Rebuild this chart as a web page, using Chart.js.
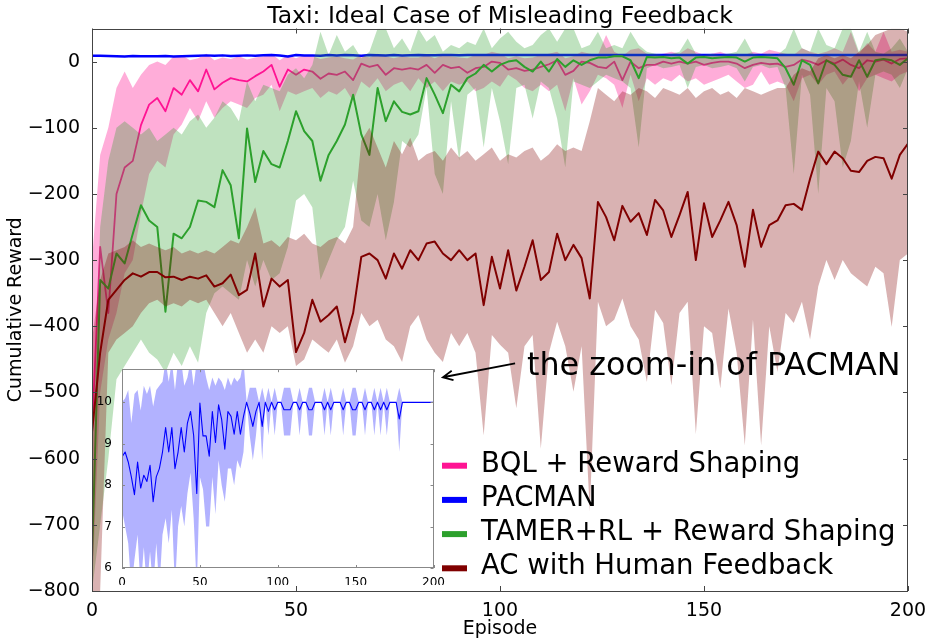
<!DOCTYPE html>
<html lang="en">
<head>
  <meta charset="UTF-8" />
  <title>Taxi: Ideal Case of Misleading Feedback</title>
  <script src="https://cdn.jsdelivr.net/npm/chart.js"></script>
  <style>
    html, body { margin: 0; padding: 0; background: #fff; }
    .wrap { position: relative; width: 931px; height: 643px; }
    #mainChart { position: absolute; left: 0; top: 0; }
    #insetChart { position: absolute; left: 95px; top: 360px; }
  </style>
</head>
<body>
  <div class="wrap">
    <canvas id="mainChart" width="931" height="643"></canvas>
    <canvas id="insetChart" width="350" height="225"></canvas>
  </div>

  <script>
    // x positions: every second episode
    const episodes = Array.from({ length: 101 }, (_, i) => i * 2);
    const xTicks = [0, 50, 100, 150, 200];
    const yTicks = [-800, -700, -600, -500, -400, -300, -200, -100, 0];
    const insetYTicks = [6, 7, 8, 9, 10];

    const chartTitle = 'Taxi: Ideal Case of Misleading Feedback';
    const seriesNames = ['BQL + Reward Shaping', 'PACMAN', 'TAMER+RL + Reward Shaping', 'AC with Human Feedback'];

    // BQL + Reward Shaping
    const bqlMean = [
      -560, -280, -380, -200, -160, -150, -96, -65, -55, -75,
      -40, -50, -28, -45, -12, -42, -32, -25, -28, -30,
      -22, -15, -5, -38, -12, -20, -12, -15, -26, -18,
      -20, -15, -28, -3, -8, -5, -20, -10, -12, -10,
      -12, -5, -17, -5, -10, -8, -17, -10, -8, 0,
      -2, -12, -10, -14, -12, -8, -4, 2, -20, -14,
      0, -2, -8, -10, 0, -28, 0, -10, -5, -5,
      0, -3, 0, -3, 0, -5, -2, 0, 0, -3,
      -10, -5, -2, -4, -3, -8, -5, 3, 0, -5,
      2, -3, 3, -5, -10, 2, 0, 3, -3, 4,
      5
    ];
    const bqlHi = [
      -300, -141, -100, -40, -15, -40, -20, -5, 0, -5,
      8, 10, 2, 5, 12, 2, 6, 4, 8, 3,
      6, 8, 12, 2, 10, 5, 10, 8, 4, 6,
      8, 5, 3, 10, 6, 12, 8, 5, 8, 6,
      6, 10, 5, 10, 8, 6, 5, 10, 10, 15,
      12, 5, 8, 5, 6, 10, 12, 15, 5, 8,
      15, 12, 10, 40, 15, 8, 18, 20, 12, 10,
      12, 15, 12, 20, 15, 10, 12, 15, 10, 12,
      10, 15, 12, 18, 15, 12, 10, 20, 15, 12,
      15, 20, 15, 45, 12, 28, 15, 45, 15, 18,
      15
    ];
    const bqlLo = [
      -800, -500, -420, -380, -320, -300, -230, -170, -150, -160,
      -110, -95, -70, -90, -60, -85, -70, -60, -65, -70,
      -55, -50, -35, -75, -45, -50, -45, -40, -55, -45,
      -50, -40, -60, -30, -40, -25, -45, -35, -30, -45,
      -25, -40, -30, -45, -30, -35, -30, -45, -40, -30,
      -38, -20, -28, -40, -45, -35, -45, -35, -75, -25,
      -65, -45, -20, -25, -35, -70, -20, -60, -25, -35,
      -25, -30, -20, -30, -25, -35, -30, -25, -20, -30,
      -40, -35, -15, -35, -30, -35, -60, -25, -20, -35,
      -20, -15, -35, -20, -45, -25, -20, -25, -30, -20,
      -15
    ];

    // PACMAN (also the inset)
    const pacMean = [
      8.68, 8.8, 8.56, 8.2, 7.77, 8.56, 7.93, 8.24, 8.09, 8.48,
      7.6, 8.2, 8.4, 8.8, 9.39, 8.8, 9.39, 8.4, 8.8, 9.39,
      8.8, 9.5, 9.78, 9.2, 7.8, 9.98, 9.19, 9.19, 8.7, 9.78,
      9.03, 9.94, 9.58, 8.87, 9.78, 9.66, 9.23, 9.78, 9.23, 9.66,
      10, 9.74, 9.42, 9.78, 10, 9.42, 10, 9.78, 10, 9.82,
      10, 10, 9.82, 9.82, 9.82, 10, 10, 9.82, 10, 10,
      9.82, 9.82, 10, 10, 10, 9.82, 10, 9.82, 10, 10,
      10, 9.82, 10, 10, 9.82, 9.82, 10, 10, 9.82, 10,
      10, 9.82, 10, 9.82, 10, 9.82, 10, 10, 10, 9.6,
      10, 10, 10, 10, 10, 10, 10, 10, 10, 10,
      10
    ];
    const pacHi = [
      10.0, 10.1, 10.3, 9.5, 10.2, 10.3, 9.8, 10.4, 10.2, 10.4,
      9.9, 10.3, 10.4, 10.5, 11, 10.5, 11, 10.3, 11, 11,
      10.4, 10.6, 11, 10.4, 11, 11, 11, 10.6, 10.3, 10.6,
      10.4, 10.6, 10.5, 10.3, 10.6, 10.4, 10.6, 10.5, 10.6, 11,
      10, 10.35, 10.35, 10.35, 10, 10.35, 10, 10.35, 10, 10.35,
      10, 10, 10.35, 10.35, 10.35, 10, 10, 10.35, 10, 10,
      10.35, 10.35, 10, 10, 10, 10.35, 10, 10.35, 10, 10,
      10, 10.35, 10, 10, 10.35, 10.35, 10, 10, 10.35, 10,
      10, 10.35, 10, 10.35, 10, 10.35, 10, 10, 10, 10.35,
      10, 10, 10, 10, 10, 10, 10, 10, 10, 10,
      10
    ];
    const pacLo = [
      7.4, 7.0, 6.6, 5.5, 6.2, 6.8, 5.5, 6.5, 5.5, 6.4,
      5.5, 6.6, 5.5, 6.8, 7.2, 6.6, 7.4, 5.5, 7.0, 7.5,
      7.0, 7.8, 8.3, 7.2, 5.5, 8.2, 7.9, 7.0, 7.0, 8.2,
      7.3, 8.6, 8.0, 7.6, 8.4, 8.4, 8.0, 8.6, 8.4, 8.8,
      10, 9.2, 8.6, 9.2, 10, 8.6, 10, 9.2, 10, 9.2,
      10, 10, 9.2, 9.2, 9.2, 10, 10, 9.2, 10, 10,
      9.2, 9.2, 10, 10, 10, 9.2, 10, 9.2, 10, 10,
      10, 9.2, 10, 10, 9.2, 9.2, 10, 10, 9.2, 10,
      10, 9.2, 10, 9.2, 10, 9.2, 10, 10, 10, 8.8,
      10, 10, 10, 10, 10, 10, 10, 10, 10, 10,
      10
    ];

    // TAMER+RL + Reward Shaping
    const tamerMean = [
      -750, -330, -343, -290, -305, -260, -217, -240, -250, -378,
      -260, -267, -250, -210, -212, -220, -164, -187, -267, -101,
      -182, -135, -155, -160, -120, -75, -105, -120, -180, -141,
      -120, -95, -50, -110, -141, -40, -90, -60, -76, -80,
      -75, -25, -50, -78, -35, -45, -25, -18, -5, -15,
      -5, 0, 2, -8, -15, 0, -15, 4, -8, 2,
      -5, 2, 6, 6, 8, 8, 2, -25, 7, 6,
      7, 5, 6, -3, 6, 7, 5, 6, 7, 6,
      0, 6, 7, 6, 5, -10, -35, 2, -5, -33,
      2, -5, -20, -23, 2, -23, 2, 4, 2, -5,
      5
    ];
    const tamerHi = [
      -600, -250, -150, -100, -90, -100, -110, -100, -120, -110,
      -100, -110, -90, -80, -100, -85, -60, -70, -90, -30,
      -60, -35, -40, -45, -20, -10, -25, -5, 45, 10,
      40, 15, 25, 5, 15, 50, 50, 20, 35, 15,
      50, 30, 40, 15, 25, 20, 30, 25, 50, 20,
      35, 45, 30, 20, 25, 40, 50, 30, 50, 50,
      20, 25, 45, 20, 25, 20, 45, 25, 15, 12,
      10, 12, 15, 35, 12, 10, 12, 10, 12, 15,
      35, 12, 10, 12, 10, 20, 50, 20, 15, 50,
      25, 20, 50, 50, 15, 45, 15, 12, 20, 35,
      15
    ];
    const tamerLo = [
      -800, -700, -600, -480, -460, -440, -420, -440, -450, -470,
      -440, -460, -430, -455, -380, -350, -340, -350, -360, -300,
      -340, -300, -330, -320, -280, -210, -200, -220, -330, -300,
      -270, -250, -180, -240, -250, -200, -270, -212, -120, -130,
      -110, -40, -170, -200, -60, -150, -50, -40, -130, -40,
      -90, -155, -40, -35, -86, -30, -40, -86, -160, -30,
      -35, -40, -30, -20, -25, -30, -40, -130, -10, -5,
      -10, -8, -5, -40, -8, -5, -10, -8, -5, -10,
      -30, -8, -5, -10, -8, -40, -170, -20, -50, -200,
      -40, -60, -160, -120, -30, -100, -20, -15, -20, -40,
      -10
    ];

    // AC with Human Feedback
    const acMean = [
      -560, -440, -360, -345, -330, -320, -325, -318, -318, -326,
      -325, -330, -325, -328, -323, -340, -335, -322, -353, -345,
      -290, -370, -328, -340, -330, -439, -410, -360, -393, -383,
      -370, -424, -380, -295, -290, -300, -328, -290, -313, -285,
      -300, -275, -272, -290, -300, -285, -300, -290, -368, -295,
      -343, -285, -346, -310, -270, -330, -318, -260, -300, -277,
      -297, -358, -212, -235, -270, -218, -242, -229, -262, -209,
      -225, -265, -232, -197, -300, -214, -265, -240, -212, -247,
      -310, -224, -280, -247, -240, -217, -215, -224, -177, -136,
      -155, -136, -146, -165, -167, -150, -144, -146, -177, -141,
      -124
    ];
    const acHi = [
      -420, -330, -290, -285, -280, -270, -280, -275, -280, -285,
      -280, -290, -285, -290, -285, -290, -280, -270, -275, -250,
      -220, -275, -270, -280, -265, -270, -260, -275, -280, -270,
      -265, -275, -250, -120, -100, -130, -160, -120, -140, -115,
      -150, -140, -135, -150, -130, -145, -135, -150, -140, -130,
      -150, -140, -145, -135, -130, -150, -140, -125, -135, -130,
      -135, -90, -40, -50, -60, -45, -50, -40, -45, -55,
      -40, -45, -50, -40, -55, -45, -40, -50, -45, -55,
      -40, -45, -50, -45, -40, -40, -20, -10, -15, 5,
      10, 5, 10, 5, 15, 25, 40, 45, 50, 50,
      45
    ];
    const acLo = [
      -800, -800, -440, -420, -410, -400, -380, -365, -360, -370,
      -365, -370, -360, -365, -360, -380, -400, -380, -410, -440,
      -420, -440, -400, -410, -400, -460, -450, -420, -430, -440,
      -420, -455, -430, -380, -400, -390, -420, -430, -454, -400,
      -383, -420, -440, -454, -410, -430, -410, -440, -565, -413,
      -428, -440, -524, -430, -413, -585, -440, -393, -430, -499,
      -430, -680, -363, -400, -390, -358, -400, -420, -484, -375,
      -395, -489, -380, -363, -563, -400, -410, -494, -373, -440,
      -580, -390, -580, -400, -469, -380, -395, -363, -420, -340,
      -300, -330, -300, -320, -330, -340, -310, -320, -401, -300,
      -290
    ];

    const colors = { bql: '#ff1493', pac: '#0000ff', tamer: '#2ca02c', ac: '#800000' };

    const noteText = 'the zoom-in of PACMAN';
    const notePos = [106.6, -474];
    const arrowFrom = [103.7, -456];
    const arrowTo = [86.0, -477];

    Chart.defaults.font.family = "'DejaVu Sans', sans-serif";
    Chart.defaults.color = '#000';

    const fmt = v => (v < 0 ? '\u2212' + Math.abs(v) : String(v));

    function points(values) {
      return values.map((v, i) => ({ x: episodes[i], y: v }));
    }

    // lower edge + upper edge filled down to it
    function bandSets(name, lo, hi, fillColor, order) {
      return [
        { label: name + ' (low)', data: points(lo), borderWidth: 0, fill: false, order: order + 1 },
        { label: name + ' (high)', data: points(hi), borderWidth: 0, fill: '-1', backgroundColor: fillColor, order: order }
      ];
    }

    function lineSet(name, values, color, width, order) {
      return { label: name, data: points(values), borderColor: color, borderWidth: width, fill: false, order: order, borderJoinStyle: 'round' };
    }

    // frame + inward ticks on all four sides
    const frameTicks = {
      id: 'frameTicks',
      beforeDraw(chart, args, opts) {
        if (!opts.background) return;
        const a = chart.chartArea;
        chart.ctx.save();
        chart.ctx.fillStyle = opts.background;
        chart.ctx.fillRect(a.left, a.top, a.width, a.height);
        chart.ctx.restore();
      },
      afterDatasetsDraw(chart, args, opts) {
        const { ctx, chartArea: a, scales: { x, y } } = chart;
        const len = opts.tickLength;
        ctx.save();
        ctx.strokeStyle = opts.color;
        ctx.lineWidth = 1;
        ctx.beginPath();
        x.ticks.forEach(t => {
          const px = Math.round(x.getPixelForValue(t.value)) + 0.5;
          ctx.moveTo(px, a.bottom); ctx.lineTo(px, a.bottom - len);
          ctx.moveTo(px, a.top); ctx.lineTo(px, a.top + len);
        });
        y.ticks.forEach(t => {
          const py = Math.round(y.getPixelForValue(t.value)) + 0.5;
          ctx.moveTo(a.left, py); ctx.lineTo(a.left + len, py);
          ctx.moveTo(a.right, py); ctx.lineTo(a.right - len, py);
        });
        ctx.stroke();
        ctx.strokeRect(Math.round(a.left) + 0.5, Math.round(a.top) + 0.5, Math.round(a.width) - 1, Math.round(a.height) - 1);
        ctx.restore();
      }
    };

    // title, annotation arrow and legend
    const overlay = {
      id: 'overlay',
      afterDraw(chart) {
        const { ctx, chartArea: a, scales: { x, y } } = chart;
        ctx.save();
        ctx.fillStyle = '#000';
        ctx.textBaseline = 'alphabetic';

        ctx.font = "23.5px 'DejaVu Sans'";
        ctx.textAlign = 'center';
        ctx.fillText(chartTitle, (a.left + a.right) / 2, 23.3);

        ctx.textAlign = 'left';
        const x0 = x.getPixelForValue(arrowFrom[0]), y0 = y.getPixelForValue(arrowFrom[1]);
        const x1 = x.getPixelForValue(arrowTo[0]), y1 = y.getPixelForValue(arrowTo[1]);
        const ang = Math.atan2(y1 - y0, x1 - x0);
        ctx.strokeStyle = '#000';
        ctx.lineWidth = 1.8;
        ctx.beginPath();
        ctx.moveTo(x0, y0);
        ctx.lineTo(x1, y1);
        ctx.moveTo(x1 - 11 * Math.cos(ang - 0.45), y1 - 11 * Math.sin(ang - 0.45));
        ctx.lineTo(x1, y1);
        ctx.lineTo(x1 - 11 * Math.cos(ang + 0.45), y1 - 11 * Math.sin(ang + 0.45));
        ctx.stroke();
        ctx.font = "31.8px 'DejaVu Sans'";
        ctx.fillText(noteText, x.getPixelForValue(notePos[0]), y.getPixelForValue(notePos[1]));

        const legendColors = [colors.bql, colors.pac, colors.tamer, colors.ac];
        ctx.font = "27.5px 'DejaVu Sans'";
        ctx.lineWidth = 6;
        seriesNames.forEach((name, i) => {
          const yy = a.bottom - 125.3 + i * 34.2;
          ctx.strokeStyle = legendColors[i];
          ctx.beginPath();
          ctx.moveTo(a.left + 350, yy);
          ctx.lineTo(a.left + 375, yy);
          ctx.stroke();
          ctx.fillText(name, a.left + 389, yy + 6);
        });
        ctx.restore();
      }
    };

    function initializeCharts() {
      const mainDatasets = [
        ...bandSets(seriesNames[0], bqlLo, bqlHi, 'rgba(255,20,147,0.35)', 11),
        lineSet(seriesNames[0], bqlMean, colors.bql, 1.8, 10),
        lineSet(seriesNames[1], pacMean, colors.pac, 2.5, 9),
        ...bandSets(seriesNames[2], tamerLo, tamerHi, 'rgba(44,160,44,0.3)', 7),
        lineSet(seriesNames[2], tamerMean, colors.tamer, 2, 6),
        ...bandSets(seriesNames[3], acLo, acHi, 'rgba(128,0,0,0.3)', 4),
        lineSet(seriesNames[3], acMean, colors.ac, 2, 3)
      ];

      new Chart(document.getElementById('mainChart'), {
        type: 'line',
        data: { datasets: mainDatasets },
        plugins: [frameTicks, overlay],
        options: {
          responsive: false,
          animation: false,
          layout: { autoPadding: false, padding: { top: 28.5, right: 23, left: 0, bottom: 0 } },
          elements: { point: { radius: 0 }, line: { tension: 0 } },
          plugins: {
            legend: { display: false },
            tooltip: { enabled: false },
            filler: { drawTime: 'beforeDatasetDraw' },
            frameTicks: { color: '#444', tickLength: 5 }
          },
          scales: {
            x: {
              type: 'linear', min: 0, max: 200,
              afterBuildTicks: s => { s.ticks = xTicks.map(v => ({ value: v })); },
              afterFit: s => { s.height = 52; },
              grid: { display: false }, border: { display: false },
              ticks: { font: { size: 19 }, color: '#000', padding: 1, maxRotation: 0 },
              title: { display: true, text: 'Episode', font: { size: 19 }, color: '#000', padding: { top: 0, bottom: 3 } }
            },
            y: {
              type: 'linear', min: -800, max: 50,
              afterBuildTicks: s => { s.ticks = yTicks.map(v => ({ value: v })); },
              afterFit: s => { s.width = 92; },
              grid: { display: false }, border: { display: false },
              ticks: { font: { size: 19 }, color: '#000', padding: 4, callback: v => fmt(v) },
              title: { display: true, text: 'Cumulative Reward', font: { size: 19 }, color: '#000', padding: { top: 5, bottom: 0 } }
            }
          }
        }
      });

      // Inset: zoom-in of PACMAN
      new Chart(document.getElementById('insetChart'), {
        type: 'line',
        data: {
          datasets: [
            ...bandSets(seriesNames[1], pacLo, pacHi, 'rgba(0,0,255,0.3)', 2),
            lineSet(seriesNames[1], pacMean, colors.pac, 1.1, 1)
          ]
        },
        plugins: [frameTicks],
        options: {
          responsive: false,
          animation: false,
          layout: { autoPadding: false, padding: { top: 6, right: 7, left: 0, bottom: 0 } },
          elements: { point: { radius: 0 }, line: { tension: 0 } },
          plugins: {
            legend: { display: false },
            tooltip: { enabled: false },
            filler: { drawTime: 'beforeDatasetDraw' },
            frameTicks: { color: '#888', tickLength: 3, background: '#fff' }
          },
          scales: {
            x: {
              type: 'linear', min: 0, max: 200,
              afterBuildTicks: s => { s.ticks = xTicks.map(v => ({ value: v })); },
              afterFit: s => { s.height = 17; },
              grid: { display: false }, border: { display: false },
              ticks: { font: { size: 12 }, color: '#000', padding: 0, maxRotation: 0 }
            },
            y: {
              type: 'linear', min: 6, max: 10.8,
              afterBuildTicks: s => { s.ticks = insetYTicks.map(v => ({ value: v })); },
              afterFit: s => { s.width = 27; },
              grid: { display: false }, border: { display: false },
              ticks: { font: { size: 12 }, color: '#000', padding: 2 }
            }
          }
        }
      });
    }

    initializeCharts();
  </script>
</body>
</html>
